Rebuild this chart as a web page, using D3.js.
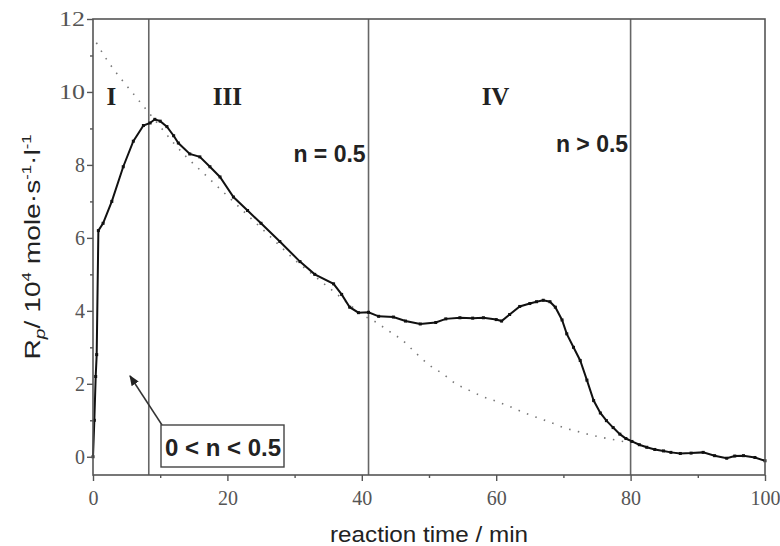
<!DOCTYPE html>
<html>
<head>
<meta charset="utf-8">
<script src="https://cdn.jsdelivr.net/npm/d3@7"></script>
<style>
  body { margin: 0; background: #fff; }
  svg text { fill: #222; }
</style>
</head>
<body>
<div id="chart"></div>
<script>
// measured rate R_p vs. reaction time (min)
const measTime = [0, 0.2, 0.4, 0.55, 0.8, 1.5, 2.8, 4.5, 6, 7.5, 8.5, 9.2, 10, 11, 12, 12.7, 14.4, 15.9, 17.4, 18.9,
  20.9, 23, 25, 27.8, 30.8, 33, 35.8, 37, 38.2, 39.5, 41, 42.5, 44.7, 46.5, 48.7, 51, 52.5, 54.6, 56.5, 58.1,
  60, 60.8, 62, 63.5, 65, 66, 67, 68, 68.8, 69.8, 70.5, 71.5, 72.5, 73.5, 74.5, 75.5, 76.4, 77.4, 78.4, 79.3,
  80.2, 81.3, 82.4, 83.6, 84.9, 86, 87.4, 89, 90.8, 92.5, 94.3, 95.5, 96.8, 98.5, 100];
const measRate = [0, 1.0, 2.2, 2.8, 6.2, 6.4, 7.0, 7.95, 8.65, 9.08, 9.15, 9.25, 9.2, 9.05, 8.8, 8.6, 8.3, 8.22, 7.95, 7.67,
  7.12, 6.75, 6.4, 5.9, 5.35, 5.0, 4.74, 4.45, 4.1, 3.95, 3.96, 3.85, 3.83, 3.72, 3.64, 3.68, 3.78, 3.81, 3.8, 3.81,
  3.76, 3.72, 3.9, 4.12, 4.2, 4.25, 4.29, 4.25, 4.1, 3.75, 3.37, 3.0, 2.64, 2.1, 1.54, 1.2, 0.99, 0.8, 0.62, 0.5,
  0.42, 0.33, 0.26, 0.2, 0.16, 0.12, 0.09, 0.1, 0.12, 0.03, -0.04, 0.02, 0.03, -0.02, -0.11];

// dotted fit curve
const fitTime = [0.5, 2, 4, 6, 8, 10, 12, 14, 16, 18, 20, 22, 24, 26, 28, 30, 32, 34, 36, 38, 40,
  42, 44, 46, 48, 50, 52, 54, 56, 58, 60, 62, 64, 66, 68, 70, 72, 74, 76, 78, 80];
const fitRate = [11.35, 10.9, 10.4, 9.95, 9.5, 9.05, 8.6, 8.2, 7.85, 7.5, 7.15, 6.8, 6.45, 6.1, 5.75, 5.4, 5.1, 4.8, 4.5, 4.2, 3.9,
  3.7, 3.45, 3.2, 2.85, 2.52, 2.28, 2.0, 1.82, 1.65, 1.52, 1.38, 1.22, 1.08, 0.95, 0.8, 0.7, 0.6, 0.52, 0.45, 0.38];

const xTicks = [0, 20, 40, 60, 80, 100];
const xMinor = [10, 30, 50, 70, 90];
const yTicks = [0, 2, 4, 6, 8, 10, 12];
const yMinor = [1, 3, 5, 7, 9, 11];
const regionBounds = [8.3, 41, 80];

const width = 780, height = 546;
const margin = { top: 19, right: 15, bottom: 71, left: 93 };

const svg = d3.select("#chart").append("svg")
  .attr("width", width)
  .attr("height", height);

// SCALES =======================================
const x = d3.scaleLinear().domain([0, 100]).range([margin.left, width - margin.right]);
const y = d3.scaleLinear().domain([-0.5, 12]).range([height - margin.bottom, margin.top]);

const frameColor = "#555";
const serifFont = "'Liberation Serif', 'Times New Roman', serif";
const sansFont = "'Liberation Sans', Arial, sans-serif";

// region separators
svg.selectAll("line.sep")
  .data(regionBounds)
  .join("line")
  .attr("class", "sep")
  .attr("x1", d => x(d)).attr("x2", d => x(d))
  .attr("y1", y(12)).attr("y2", y(-0.5))
  .attr("stroke", "#666")
  .attr("stroke-width", 1.6);

// fit curve (dotted)
const fitData = fitTime.map((t, i) => [t, fitRate[i]]);
svg.append("path")
  .datum(fitData)
  .attr("fill", "none")
  .attr("stroke", "#777")
  .attr("stroke-width", 1.6)
  .attr("stroke-dasharray", "1.5,7.5")
  .attr("d", d3.line().x(d => x(d[0])).y(d => y(d[1])).curve(d3.curveMonotoneX));

// measured curve
const measData = measTime.map((t, i) => [t, measRate[i]]);
svg.append("path")
  .datum(measData)
  .attr("fill", "none")
  .attr("stroke", "#111")
  .attr("stroke-width", 2)
  .attr("d", d3.line().x(d => x(d[0])).y(d => y(d[1])));

svg.selectAll("rect.pt")
  .data(measData)
  .join("rect")
  .attr("class", "pt")
  .attr("x", d => x(d[0]) - 1.5)
  .attr("y", d => y(d[1]) - 1.5)
  .attr("width", 3).attr("height", 3)
  .attr("fill", "#111");

// AXES =========================================
const bottomY = y(-0.5);
svg.append("g")
  .attr("transform", `translate(0,${bottomY})`)
  .call(d3.axisBottom(x).tickValues(xTicks).tickSize(6).tickPadding(10));
svg.append("g")
  .attr("transform", `translate(0,${bottomY})`)
  .call(d3.axisBottom(x).tickValues(xMinor).tickSize(3).tickFormat(""));

const yAxis = svg.append("g")
  .attr("transform", `translate(${margin.left},0)`)
  .call(d3.axisLeft(y).tickValues(yTicks).tickSize(6).tickPadding(2));
svg.append("g")
  .attr("transform", `translate(${margin.left},0)`)
  .call(d3.axisLeft(y).tickValues(yMinor).tickSize(3).tickFormat(""));

svg.selectAll(".domain").remove();
svg.selectAll(".tick line").attr("stroke", frameColor).attr("stroke-width", 1.4);
svg.selectAll(".tick text")
  .style("font-family", serifFont)
  .style("font-size", "20px")
  .style("fill", "#555");
// two-digit y labels are drawn wider in the original
yAxis.selectAll(".tick text")
  .filter(d => d >= 10)
  .attr("textLength", 26)
  .attr("lengthAdjust", "spacingAndGlyphs");

// frame
svg.append("rect")
  .attr("x", x(0)).attr("y", y(12))
  .attr("width", x(100) - x(0))
  .attr("height", y(-0.5) - y(12))
  .attr("fill", "none")
  .attr("stroke", frameColor)
  .attr("stroke-width", 1.6);

// axis titles
svg.append("text")
  .attr("x", (x(0) + x(100)) / 2)
  .attr("y", 542)
  .attr("text-anchor", "middle")
  .attr("textLength", 198)
  .attr("lengthAdjust", "spacingAndGlyphs")
  .style("font-family", sansFont)
  .style("font-size", "22px")
  .text("reaction time / min");

const yTitle = svg.append("text")
  .attr("transform", `translate(40,${(y(12) + y(-0.5)) / 2}) rotate(-90)`)
  .attr("text-anchor", "middle")
  .attr("textLength", 225)
  .attr("lengthAdjust", "spacingAndGlyphs")
  .style("font-family", sansFont)
  .style("font-size", "22px");
yTitle.append("tspan").text("R");
yTitle.append("tspan").attr("dy", 5).style("font-size", "15px").style("font-style", "italic").text("p");
yTitle.append("tspan").attr("dy", -5).text("/ 10");
yTitle.append("tspan").attr("dy", -9).style("font-size", "13px").text("4");
yTitle.append("tspan").attr("dy", 9).text(" mole\u00b7s");
yTitle.append("tspan").attr("dy", -9).style("font-size", "13px").text("-1");
yTitle.append("tspan").attr("dy", 9).text("\u00b7l");
yTitle.append("tspan").attr("dy", -9).style("font-size", "13px").text("-1");

// region labels
[["I", 2.75], ["III", 20], ["IV", 59.9]].forEach(([t, xv]) => {
  svg.append("text")
    .attr("x", x(xv)).attr("y", 105)
    .attr("text-anchor", "middle")
    .style("font-family", serifFont)
    .style("font-weight", "bold")
    .style("font-size", "25px")
    .text(t);
});

svg.append("text")
  .attr("x", 329.5).attr("y", 162)
  .attr("text-anchor", "middle")
  .style("font-family", sansFont)
  .style("font-weight", "bold")
  .style("font-size", "23px")
  .text("n = 0.5");

svg.append("text")
  .attr("x", 592).attr("y", 152)
  .attr("text-anchor", "middle")
  .style("font-family", sansFont)
  .style("font-weight", "bold")
  .style("font-size", "23px")
  .text("n > 0.5");

// annotation box with arrow
const defs = svg.append("defs");
defs.append("marker")
  .attr("id", "arrow")
  .attr("viewBox", "0 0 10 10")
  .attr("refX", 9).attr("refY", 5)
  .attr("markerWidth", 7).attr("markerHeight", 7)
  .attr("orient", "auto")
  .append("path")
  .attr("d", "M0,1 L10,5 L0,9 Z")
  .attr("fill", "#222");

svg.append("line")
  .attr("x1", 162).attr("y1", 425)
  .attr("x2", 130).attr("y2", 376)
  .attr("stroke", "#333")
  .attr("stroke-width", 1.5)
  .attr("marker-end", "url(#arrow)");

svg.append("rect")
  .attr("x", 161).attr("y", 425)
  .attr("width", 123).attr("height", 42)
  .attr("fill", "#fff")
  .attr("stroke", "#444")
  .attr("stroke-width", 1.4);

svg.append("text")
  .attr("x", 223).attr("y", 456)
  .attr("text-anchor", "middle")
  .style("font-family", sansFont)
  .style("font-weight", "bold")
  .style("font-size", "24px")
  .text("0 < n < 0.5");
</script>
</body>
</html>
